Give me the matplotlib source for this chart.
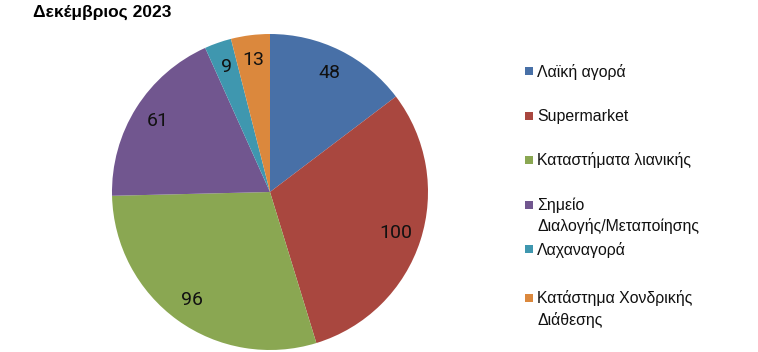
import matplotlib
matplotlib.use("Agg")
import matplotlib.pyplot as plt
from matplotlib.patches import Rectangle

title = "Δεκέμβριος 2023"
categories = ["Λαϊκή αγορά", "Supermarket", "Καταστήματα λιανικής",
              "Σημείο\nΔιαλογής/Μεταποίησης", "Λαχαναγορά",
              "Κατάστημα Χονδρικής\nΔιάθεσης"]
values = [48, 100, 96, 61, 9, 13]
colors = ["#4870A7", "#A9473F", "#8AA752", "#71568F", "#3F97AF", "#DB883D"]

W, H = 758, 352
fig = plt.figure(figsize=(W / 100, H / 100), dpi=100)

cx, cy, r = 270, 192, 158
ax = fig.add_axes([(cx - r) / W, (H - cy - r) / H, 2 * r / W, 2 * r / H])
total = sum(values)
wedges, texts, autotexts = ax.pie(
    values, colors=colors, startangle=90, counterclock=False,
    autopct=lambda p: f"{round(p * total / 100):d}", pctdistance=0.84,
    wedgeprops=dict(linewidth=0), textprops=dict(fontsize=14, family="Roboto", color="#111111"))
ax.set_aspect("equal")
ax.set_xlim(-1, 1)
ax.set_ylim(-1, 1)

fig.text(33 / W, 1 - 12 / H, title, fontsize=12.5, fontweight="bold",
         family="Liberation Sans", va="center", ha="left")

legend_y = [71, 116, 160, 205, 249, 298]
for lab, col, y in zip(categories, colors, legend_y):
    fig.patches.append(Rectangle(((525) / W, 1 - (y + 4) / H), 8 / W, 8 / H,
                                 transform=fig.transFigure, facecolor=col, edgecolor="none"))
    fig.text(537 / W, 1 - (y - 7.5) / H, lab, fontsize=11.4, family="Liberation Sans",
             va="top", ha="left", linespacing=1.4, color="#111111")

fig.savefig("out.png", dpi=100)
